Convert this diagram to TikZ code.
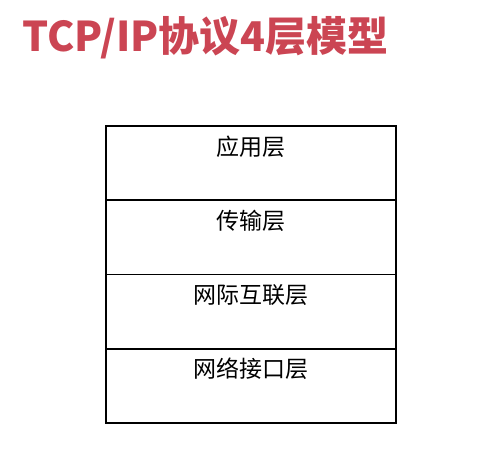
\documentclass[tikz,border=0pt]{standalone}
\usepackage{fontspec}
\newfontfamily\cjk{Noto Sans CJK SC}
\usetikzlibrary{positioning}
\definecolor{titlered}{RGB}{203,69,83}
\begin{document}
\begin{tikzpicture}[x=1pt,y=-1pt,
	layer/.style={draw,line width=1.6pt,minimum width=290pt,minimum height=74.25pt,inner sep=0pt,outer sep=0pt},
	lbl/.style={anchor=base,inner sep=0pt,font=\cjk\fontsize{23}{23}\selectfont}]
	\useasboundingbox (0,0) rectangle (500,466);
	% title
	\node[anchor=base west,inner sep=0pt,text=titlered,font=\cjk\bfseries\fontsize{41}{41}\selectfont] (title) at (22,51.5) {TCP/IP协议4层模型};
	% the four layers
	\node[layer,anchor=north west] (app) at (106,126) {};
	\node[layer,below=0pt of app] (trans) {};
	\node[layer,below=0pt of trans] (inet) {};
	\node[layer,below=0pt of inet] (link) {};
	\node[lbl] (lapp) at ([yshift=-29pt]app.north) {应用层};
	\node[lbl] (ltrans) at ([yshift=-29pt]trans.north) {传输层};
	\node[lbl] (linet) at ([yshift=-29pt]inet.north) {网际互联层};
	\node[lbl] (llink) at ([yshift=-29pt]link.north) {网络接口层};
\end{tikzpicture}
\end{document}
